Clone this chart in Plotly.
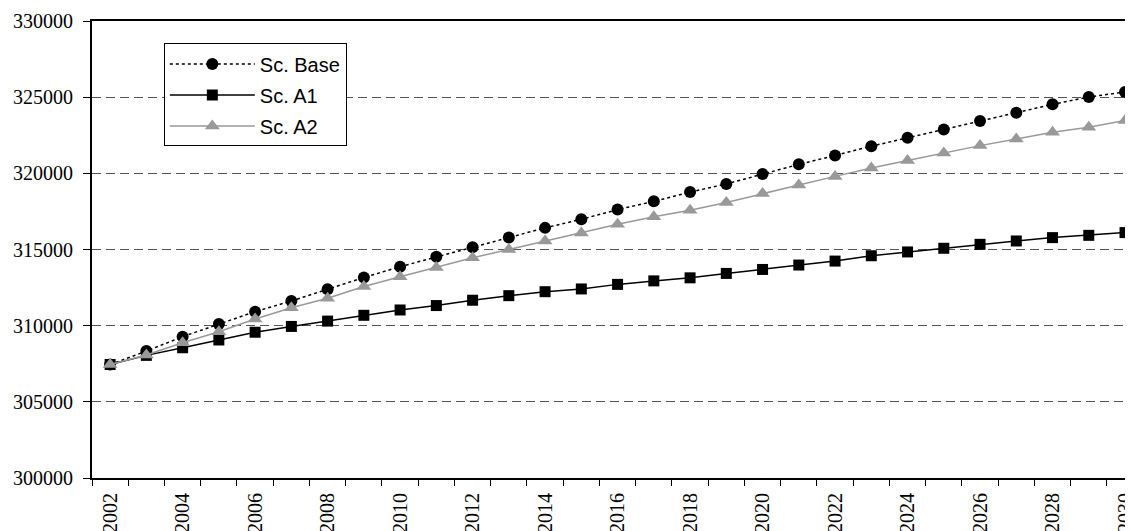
import plotly.graph_objects as go

years = list(range(2002, 2031))
base = [307450, 308330, 309280, 310110, 310920, 311620, 312390, 313160, 313870, 314520,
        315150, 315790, 316420, 316980, 317620, 318160, 318770, 319300, 319960, 320590,
        321170, 321780, 322330, 322880, 323430, 323980, 324530, 325010, 325340]
a1 = [307450, 308050, 308550, 309060, 309570, 309950, 310300, 310680, 311030, 311320,
      311670, 311970, 312230, 312410, 312710, 312940, 313140, 313430, 313690, 313980,
      314240, 314590, 314840, 315080, 315340, 315560, 315780, 315930, 316110]
a2 = [307450, 308080, 308880, 309600, 310440, 311180, 311800, 312570, 313210, 313820,
      314460, 315000, 315550, 316090, 316660, 317150, 317580, 318090, 318680, 319230,
      319800, 320350, 320840, 321340, 321820, 322260, 322700, 323030, 323470]
xtick_years = list(range(2002, 2031, 2))
ytick_vals = list(range(300000, 330001, 5000))

serif = "Liberation Serif"

fig = go.Figure()
fig.add_trace(go.Scatter(x=years, y=base, name="Sc. Base", mode="lines+markers",
                         line=dict(color="black", width=1.5, dash="dot"),
                         marker=dict(symbol="circle", size=12, color="black"),
                         legendgroup="g1"))
fig.add_trace(go.Scatter(x=years, y=a1, name="Sc. A1", mode="lines+markers",
                         line=dict(color="black", width=1.5),
                         marker=dict(symbol="square", size=11, color="black"),
                         legendgroup="g2"))
fig.add_trace(go.Scatter(x=years, y=a2, name="Sc. A2", mode="lines+markers",
                         line=dict(color="#999999", width=1.5),
                         marker=dict(symbol="triangle-up", size=13, color="#999999"),
                         legendgroup="g3"))

fig.update_layout(
    width=1125, height=523,
    margin=dict(l=84, r=0, t=13, b=53, autoexpand=False),
    plot_bgcolor="white", paper_bgcolor="white",
    showlegend=True,
    legend=dict(x=0.069, y=0.951, xanchor="left", yanchor="top",
                bordercolor="black", borderwidth=1, bgcolor="white",
                font=dict(family="Liberation Sans", size=20, color="black"),
                tracegroupgap=2, itemwidth=85),
    xaxis=dict(range=[2001.5, 2030.22], tickmode="array", tickvals=xtick_years,
               ticktext=[str(y) for y in xtick_years], tickangle=-90, ticks="",
               automargin=False, ticklabelstandoff=5, ticklabeloverflow="allow",
               showgrid=False, zeroline=False,
               showline=True, linecolor="black", linewidth=2, mirror=True,
               minor=dict(tick0=2001.5, dtick=1, ticks="outside", ticklen=6,
                          tickcolor="black", tickwidth=1, showgrid=False),
               tickfont=dict(family=serif, size=20, color="black")),
    yaxis=dict(range=[300000, 330000], tickmode="array", tickvals=ytick_vals,
               ticktext=[str(v) for v in ytick_vals], automargin=False,
               ticks="outside", ticklen=7, tickcolor="black", tickwidth=1,
               showgrid=True, gridcolor="#555555", gridwidth=1, griddash="9px,5px",
               zeroline=False, showline=True, linecolor="black", linewidth=2,
               ticklabelstandoff=6,
               tickfont=dict(family=serif, size=20, color="black")),
)

fig.write_html("out.html")
